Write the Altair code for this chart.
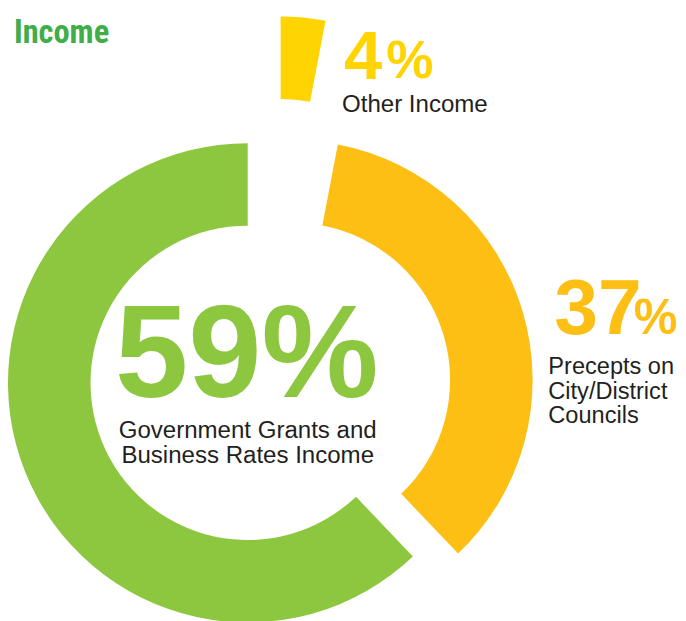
import math
import altair as alt
import pandas as pd

# ---- data ----
categories = ["Other Income", "Precepts on City/District Councils", "Government Grants and Business Rates Income"]
label_pct = ["4%", "37%", "59%"]
# arc spans as drawn in the picture (share of the full circle, %)
arc_share = [3.0, 34.9, 62.1]
order = [1, 2, 3]
colors = ["#FFD400", "#FDBF14", "#8DC63F"]

df = pd.DataFrame({"category": categories, "share": arc_share, "order": order})

W, H = 670, 605
R_OUT, R_IN = 244, 160
theta_scale = alt.Scale(domain=[0, 100], range=[0, 2 * math.pi])
color_scale = alt.Scale(domain=categories, range=colors)

base = alt.Chart(df).transform_window(
    end="sum(share)", sort=[alt.SortField("order")], frame=[None, 0]
).transform_calculate(start="datum.end - datum.share")

def piece(cat, cx, cy):
    return base.transform_filter(alt.datum.category == cat).mark_arc(
        outerRadius=R_OUT, innerRadius=R_IN
    ).encode(
        theta=alt.Theta("start:Q", scale=theta_scale),
        theta2="end:Q",
        color=alt.Color("category:N", scale=color_scale, legend=None),
        x=alt.value(cx),
        y=alt.value(cy),
    )

arcs = [
    piece(categories[2], 241, 376),
    piece(categories[1], 287, 373),
    piece(categories[0], 274.5, 247),
]

LABEL_FONT = "Liberation Sans"
DARK = "#231F20"

def txt(s, x, y, size, color, align="left", weight="normal", font=LABEL_FONT):
    return alt.Chart(pd.DataFrame({"t": [s]})).mark_text(
        align=align, baseline="alphabetic", fontSize=size, fontWeight=weight,
        font=font, color=color
    ).encode(text="t:N", x=alt.value(x), y=alt.value(y))

LS = 24.5
texts = [
    txt("Income", 3, 30, 33, "#41AD49", weight="bold",
        font="Liberation Sans Narrow, Roboto Condensed, Arial Narrow, Liberation Sans"),
    # 59%
    txt(label_pct[2], 240, 390, 134, "#8DC63F", align="center", weight="bold"),
    txt("Government Grants and", 241, 432, LS, DARK, align="center"),
    txt("Business Rates Income", 241, 458, LS, DARK, align="center"),
    # 4%
    txt(label_pct[0][:-1], 339, 67, 70, "#FFD400", weight="bold"),
    txt("%", 382, 66, 54, "#FFD400", weight="bold"),
    txt("Other Income", 337, 100, LS, DARK),
    # 37%
    txt(label_pct[1][:-1], 553, 326, 80, "#FDBF14", weight="bold"),
    txt("%", 634, 326, 50, "#FDBF14", weight="bold"),
    txt("Precepts on", 547, 367, 24, DARK),
    txt("City/District", 547, 392, 24, DARK),
    txt("Councils", 547, 417, 24, DARK),
]

chart = alt.layer(*arcs, *texts).properties(
    width=W, height=H, padding=0
).configure_view(stroke=None)

chart.save("out.html", embed_options={"renderer": "svg", "actions": False})
